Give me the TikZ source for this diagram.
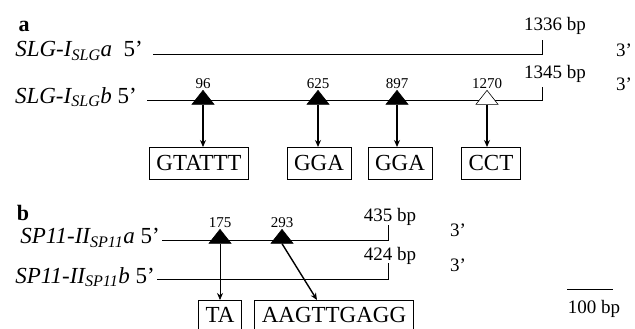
\documentclass[tikz,border=0pt]{standalone}
\usepackage{fontspec}
\setmainfont{Liberation Serif}
\usetikzlibrary{positioning,arrows.meta,shapes.geometric}

\tikzset{
  seqbox/.style={draw, line width=0.8pt, inner xsep=7pt, inner ysep=0pt, minimum height=32pt, anchor=north, font=\fontsize{23}{23}\selectfont},
  site/.style={isosceles triangle, isosceles triangle stretches, shape border rotate=90, fill=black, draw=black, line width=0.6pt, inner sep=0pt, minimum width=22pt, minimum height=14pt},
  opensite/.style={site, fill=white},
  sitenum/.style={font=\fontsize{15}{15}\selectfont, inner sep=1pt},
  bp/.style={font=\fontsize{19}{19}\selectfont, inner sep=0pt},
  gene/.style={font=\fontsize{23}{23}\selectfont, anchor=east, inner sep=0pt},
  strand/.style={line width=0.8pt},
  hit/.style={line width=1.4pt, -{Stealth[length=7pt,width=6pt]}}
}

\begin{document}
\begin{tikzpicture}[x=1pt, y=-1pt]
  \useasboundingbox (0,0) rectangle (635,329);

  % panel a
  \node[font=\fontsize{22}{22}\selectfont\bfseries] (pa) at (24,26) {a};
  \node[gene] (ga) at (143,51) {\textit{SLG-I\textsubscript{SLG}a}\ \ 5’};
  \node[gene] (gb) at (137,97) {\textit{SLG-I\textsubscript{SLG}b} 5’};
  \coordinate (a1s) at (153,54);
  \coordinate (a1e) at (542,54);
  \coordinate (a2s) at (147,100);
  \coordinate (a2e) at (542,100);
  \draw[strand] (a1s) -- (a1e) -- ++(0,-14);
  \draw[strand] (a2s) -- (a2e) -- ++(0,-13);
  \node[bp] (la1) at (555,26) {1336 bp};
  \node[bp] (la2) at (555,74) {1345 bp};
  \node[bp] (ea1) at (624,50) {3’};
  \node[bp] (ea2) at (624,84) {3’};

  \node[site] (t96) at (203,99) {};
  \node[site] (t625) at (318,99) {};
  \node[site] (t897) at (397,99) {};
  \node[opensite] (t1270) at (487,99) {};
  \foreach \t/\n in {t96/96, t625/625, t897/897, t1270/1270}
    \node[sitenum, above=0pt of \t] {\n};

  \node[seqbox] (s1) at (199,147) {GTATTT};
  \node[seqbox] (s2) at (319,147) {GGA};
  \node[seqbox] (s3) at (400,147) {GGA};
  \node[seqbox] (s4) at (491,147) {CCT};
  \foreach \t/\s in {t96/s1, t625/s2, t897/s3, t1270/s4}
    \draw[hit] (\t.south) -- (\t.south |- \s.north);

  % panel b
  \node[font=\fontsize{22}{22}\selectfont\bfseries] (pb) at (23,213) {b};
  \node[gene] (gc) at (160,238) {\textit{SP11-II\textsubscript{SP11}a} 5’};
  \node[gene] (gd) at (155,277) {\textit{SP11-II\textsubscript{SP11}b} 5’};
  \coordinate (b1s) at (162,240);
  \coordinate (b1e) at (388,240);
  \coordinate (b2s) at (157,279);
  \coordinate (b2e) at (388,279);
  \draw[strand] (b1s) -- (b1e) -- ++(0,-15);
  \draw[strand] (b2s) -- (b2e) -- ++(0,-16);
  \node[bp] (lb1) at (390,217) {435 bp};
  \node[bp] (lb2) at (390,256) {424 bp};
  \node[bp] (eb1) at (458,230) {3’};
  \node[bp] (eb2) at (458,265) {3’};

  \node[site] (t175) at (220,238) {};
  \node[site] (t293) at (282,238) {};
  \foreach \t/\n in {t175/175, t293/293}
    \node[sitenum, above=0pt of \t] {\n};

  \node[seqbox, minimum height=29pt] (s5) at (220,300) {TA};
  \node[seqbox, minimum height=29pt] (s6) at (334,300) {AAGTTGAGG};
  \draw[hit, line width=0.8pt] (t175.south) -- (t175.south |- s5.north);
  \draw[hit] (t293.south) -- (s6.north -| 317,0);

  % scale bar
  \coordinate (sb1) at (567,289);
  \coordinate (sb2) at (613,289);
  \draw[strand] (sb1) -- (sb2);
  \node[bp] (sbl) at (594,309) {100 bp};
\end{tikzpicture}
\end{document}
